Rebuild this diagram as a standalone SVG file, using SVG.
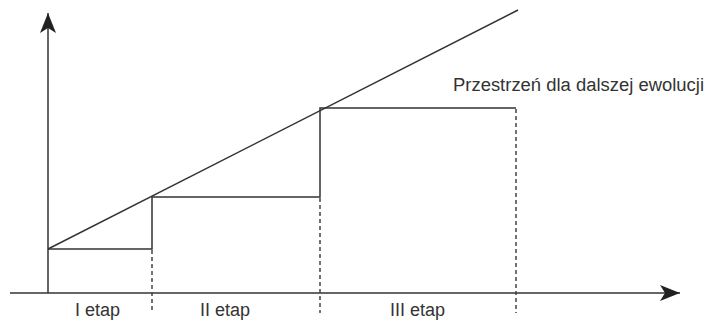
<svg xmlns="http://www.w3.org/2000/svg" width="706" height="320" viewBox="0 0 706 320">
  <style>
    .ln { stroke: #333; stroke-width: 1.5; fill: none; }
    .dash { stroke: #444; stroke-width: 1.5; fill: none; stroke-dasharray: 4 3; }
    .lbl { font-family: "Liberation Sans", Arial, sans-serif; font-size: 18px; fill: #333; }
  </style>
  <defs>
    <marker id="arr" markerUnits="userSpaceOnUse" markerWidth="20" markerHeight="18" refX="20" refY="9" orient="auto">
      <path d="M0,1 L20,9 L0,17 L5,9 Z" fill="#222"/>
    </marker>
  </defs>
  <rect width="706" height="320" fill="#fff"/>
  <g id="axes">
    <line class="ln" x1="48" y1="293" x2="48" y2="13" marker-end="url(#arr)"/>
    <line class="ln" x1="10" y1="293" x2="680" y2="293" marker-end="url(#arr)"/>
  </g>
  <g id="connectors">
    <line class="ln" x1="48" y1="249" x2="518" y2="10"/>
    <polyline class="ln" points="48,249 152,249 152,197 320,197 320,108 516,108"/>
    <line class="dash" x1="152" y1="250" x2="152" y2="313"/>
    <line class="dash" x1="320" y1="198" x2="320" y2="313"/>
    <line class="dash" x1="516" y1="109" x2="516" y2="313"/>
  </g>
  <g id="labels">
    <text class="lbl" x="75" y="316">I etap</text>
    <text class="lbl" x="200" y="316">II etap</text>
    <text class="lbl" x="390" y="316">III etap</text>
    <text class="lbl" x="453" y="91" textLength="251" lengthAdjust="spacingAndGlyphs">Przestrzeń dla dalszej ewolucji</text>
  </g>
</svg>
